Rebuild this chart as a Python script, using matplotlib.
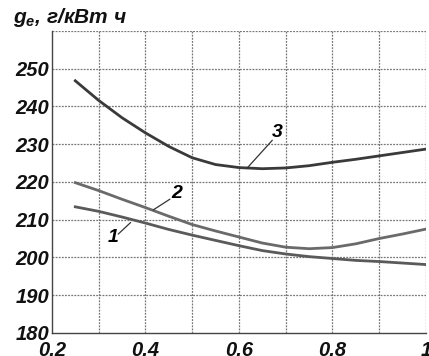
import matplotlib
matplotlib.use("Agg")
import matplotlib.pyplot as plt

plt.rcParams['font.family'] = ['Liberation Sans', 'DejaVu Sans']
plt.rcParams['mathtext.fontset'] = 'custom'
plt.rcParams['mathtext.rm'] = 'Liberation Sans:bold:italic'
plt.rcParams['mathtext.it'] = 'Liberation Sans:bold:italic'

x = [0.25, 0.3, 0.35, 0.4, 0.45, 0.5, 0.55, 0.6, 0.65, 0.7, 0.75, 0.8, 0.85, 0.9, 0.95, 1.0]
curve1 = [213.4, 212.2, 210.7, 209.1, 207.4, 205.9, 204.5, 203.1, 201.8, 200.9, 200.2, 199.7, 199.2, 198.9, 198.5, 198.1]
curve2 = [219.8, 217.7, 215.4, 213.2, 210.9, 208.7, 207.0, 205.4, 203.8, 202.7, 202.3, 202.6, 203.6, 205.0, 206.2, 207.5]
curve3 = [246.8, 241.6, 237.0, 233.0, 229.4, 226.4, 224.6, 223.8, 223.5, 223.7, 224.3, 225.2, 226.0, 226.9, 227.8, 228.7]

xticks = [0.2, 0.4, 0.6, 0.8, 1.0]
xticklabels = ['0.2', '0.4', '0.6', '0.8', '1']
yticks = [180, 190, 200, 210, 220, 230, 240, 250]

fig = plt.figure(figsize=(4.29, 3.56), dpi=100)
ax = fig.add_axes([0.121, 0.065, 0.872, 0.848])

ax.set_xlim(0.2, 1.0)
ax.set_ylim(180, 260)

# dotted grid
grid_kw = dict(color='#777777', linestyle=(0, (1.5, 1)), linewidth=0.9, zorder=0)
for gx in [0.3, 0.4, 0.5, 0.6, 0.7, 0.8, 0.9, 1.0]:
    ax.axvline(gx, **grid_kw)
for gy in [190, 200, 210, 220, 230, 240, 250, 260]:
    ax.axhline(gy, **grid_kw)

ax.plot(x, curve1, color='#5a5a5a', lw=2.0)
ax.plot(x, curve2, color='#6a6a6a', lw=2.0)
ax.plot(x, curve3, color='#3a3a3a', lw=2.0)

ax.set_xticks(xticks)
ax.set_xticklabels(xticklabels)
ax.set_yticks(yticks)

ax.tick_params(which='both', length=0)
ax.tick_params(axis='y', pad=2)
ax.tick_params(axis='x', pad=6)
for lab in ax.get_xticklabels() + ax.get_yticklabels():
    lab.set_fontsize(14.5)
    lab.set_fontweight('bold')
    lab.set_fontstyle('italic')
    lab.set_color('#111111')

for s in ['top', 'right']:
    ax.spines[s].set_visible(False)
ax.spines['left'].set_color('#444444')
ax.spines['bottom'].set_color('#444444')
ax.spines['left'].set_linewidth(1.0)
ax.spines['bottom'].set_linewidth(1.0)

# curve labels with leader lines
ax.plot([0.617, 0.671], [223.6, 231.0], color='#333333', lw=0.9)
ax.text(0.683, 233.0, '3', fontsize=14, fontweight='bold', fontstyle='italic', ha='center', va='center')
ax.plot([0.417, 0.452], [212.6, 215.4], color='#333333', lw=0.9)
ax.text(0.467, 217.0, '2', fontsize=14, fontweight='bold', fontstyle='italic', ha='center', va='center')
ax.plot([0.342, 0.368], [206.2, 209.2], color='#333333', lw=0.9)
ax.text(0.331, 205.4, '1', fontsize=14, fontweight='bold', fontstyle='italic', ha='center', va='center')

fig.text(0.03, 0.935, r'$g_e$, г/кВт ч', fontsize=15, fontweight='bold', fontstyle='italic', color='#111111', ha='left', va='baseline')

fig.savefig('out.png', dpi=100)
